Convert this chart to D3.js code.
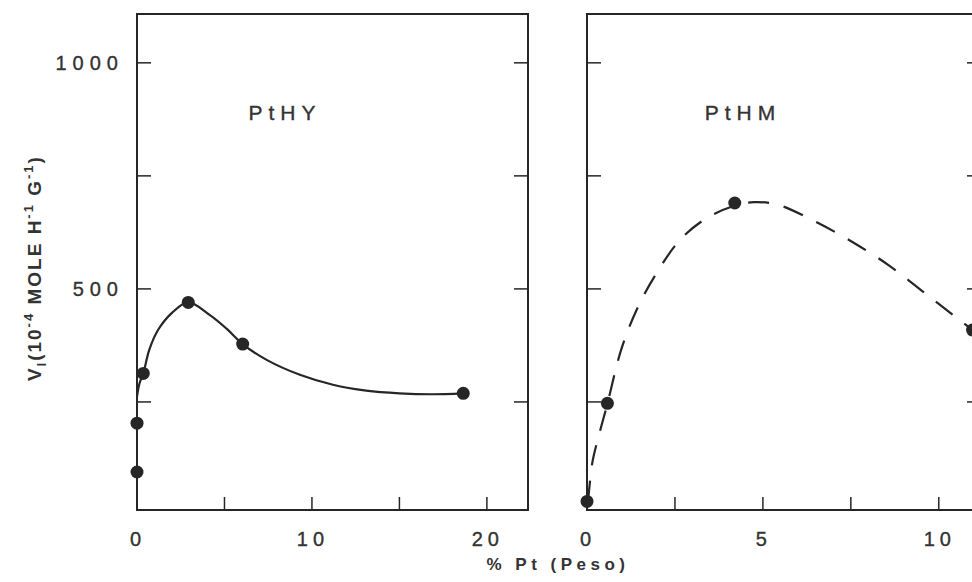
<!DOCTYPE html>
<html><head><meta charset="utf-8">
<script src="https://cdn.jsdelivr.net/npm/d3@7"></script>
<style>
html,body{margin:0;padding:0;background:#fff;}
svg{display:block;}
text{font-family:"Liberation Sans",Arial,sans-serif;fill:#333;}
.num{stroke:#333;stroke-width:0.35px;}
</style></head>
<body>
<svg id="c" width="972" height="582"></svg>
<script>
// ---- data ----
const panelTitles = ["PtHY", "PtHM"];
// PtHY measured points (wt% Pt, V)
const hyX = [0, 0, 0.36, 2.93, 6.04, 18.65];
const hyV = [95, 203, 313, 470, 378, 269];
// PtHY smooth curve
const hyCurveX = [0, 0.15, 0.36, 0.7, 1.2, 2, 2.93, 4.17, 5.12, 6.04, 7.41, 9.31, 11.2, 13.1, 15, 16.9, 18.65];
const hyCurveV = [262, 292, 313, 365, 409, 447, 470, 442, 412, 378, 343, 310, 288, 275, 269, 267, 269];
// PtHM measured points
const hmX = [0, 0.58, 4.2, 10.96];
const hmV = [30, 247, 690, 409];
// PtHM dashed curve
const hmCurveX = [0.03, 0.15, 0.3, 0.56, 0.99, 1.46, 1.98, 2.64, 3.41, 4.2, 4.75, 5.43, 6.46, 7.52, 8.6, 9.55, 10.46, 10.96, 11.3];
const hmCurveV = [30, 115, 165, 240, 370, 462, 535, 608, 657, 684, 692, 686, 650, 605, 551, 494, 439, 409, 388];
// ticks
const yTicks = [250, 500, 750, 1000];
const yTickLabels = ["", "500", "", "1000"];
const hyXTicks = [0, 5, 10, 15, 20];
const hyXLabels = ["0", "", "10", "", "20"];
const hmXTicks = [0, 2.5, 5, 7.5, 10];
const hmXLabels = ["0", "", "5", "", "10"];

// ---- drawing ----
const svg = d3.select("#c");
const ink = "#262626";
const plotTop = 14, plotBottom = 510;
const y = d3.scaleLinear().domain([11, 1108]).range([plotBottom, plotTop]);
const xHY = d3.scaleLinear().domain([0, 22.35]).range([137, 528]);
const xHM = d3.scaleLinear().domain([0, 11.2]).range([587, 981]);

function panel(x, ticks, labels, title, titleX, px, pv, cx, cv, dashed) {
  const g = svg.append("g");
  const [x0, x1] = x.range();
  g.append("rect").attr("x", x0).attr("y", plotTop).attr("width", x1 - x0).attr("height", plotBottom - plotTop)
    .attr("fill", "none").attr("stroke", ink).attr("stroke-width", 2);
  yTicks.forEach(v => {
    g.append("line").attr("x1", x0).attr("x2", x0 + 14).attr("y1", y(v)).attr("y2", y(v)).attr("stroke", ink).attr("stroke-width", 1.5);
    g.append("line").attr("x1", x1).attr("x2", x1 - 14).attr("y1", y(v)).attr("y2", y(v)).attr("stroke", ink).attr("stroke-width", 1.5);
  });
  ticks.forEach((t, i) => {
    if (t > 0) g.append("line").attr("x1", x(t)).attr("x2", x(t)).attr("y1", plotBottom).attr("y2", plotBottom - 13).attr("stroke", ink).attr("stroke-width", 1.5);
    if (labels[i]) g.append("text").attr("class", "num").attr("x", x(t)).attr("y", 546).attr("text-anchor", "middle")
      .attr("font-size", 20).attr("letter-spacing", 5).attr("dx", 1).text(labels[i]);
  });
  g.append("text").attr("class", "num").attr("x", titleX).attr("y", 120)
    .attr("text-anchor", "middle").attr("font-size", 21).attr("letter-spacing", 6).text(title);
  const line = d3.line().x(d => x(d[0])).y(d => y(d[1])).curve(d3.curveCatmullRom.alpha(0.5));
  g.append("path").datum(cx.map((v, i) => [v, cv[i]])).attr("d", line)
    .attr("fill", "none").attr("stroke", ink).attr("stroke-width", 2.2)
    .attr("stroke-dasharray", dashed ? "21,15" : null);
  g.selectAll("circle.p").data(px.map((v, i) => [v, pv[i]])).join("circle")
    .attr("cx", d => x(d[0])).attr("cy", d => y(d[1])).attr("r", 6.5).attr("fill", ink);
}
panel(xHY, hyXTicks, hyXLabels, panelTitles[0], 285, hyX, hyV, hyCurveX, hyCurveV, false);
panel(xHM, hmXTicks, hmXLabels, panelTitles[1], 743, hmX, hmV, hmCurveX, hmCurveV, true);

yTicks.forEach((v, i) => {
  if (yTickLabels[i]) svg.append("text").attr("class", "num").attr("x", 124).attr("y", y(v) + 7).attr("text-anchor", "end")
    .attr("font-size", 20).attr("letter-spacing", 6).text(yTickLabels[i]);
});

svg.append("text").attr("x", 558).attr("y", 570).attr("text-anchor", "middle")
  .attr("font-size", 17).attr("font-weight", "bold").attr("letter-spacing", 4.5).text("% Pt (Peso)");

const yt = svg.append("text").attr("transform", "translate(41,268) rotate(-90)")
  .attr("text-anchor", "middle").attr("font-size", 19).attr("font-weight", "bold").attr("letter-spacing", 2);
yt.append("tspan").text("V");
yt.append("tspan").attr("font-size", 12).attr("dy", 5).text("I");
yt.append("tspan").attr("dy", -5).text("(10");
yt.append("tspan").attr("font-size", 13).attr("dy", -8).text("-4");
yt.append("tspan").attr("dy", 8).text(" MOLE H");
yt.append("tspan").attr("font-size", 13).attr("dy", -8).text("-1");
yt.append("tspan").attr("dy", 8).text(" G");
yt.append("tspan").attr("font-size", 13).attr("dy", -8).text("-1");
yt.append("tspan").attr("dy", 8).text(")");
</script>
</body></html>
